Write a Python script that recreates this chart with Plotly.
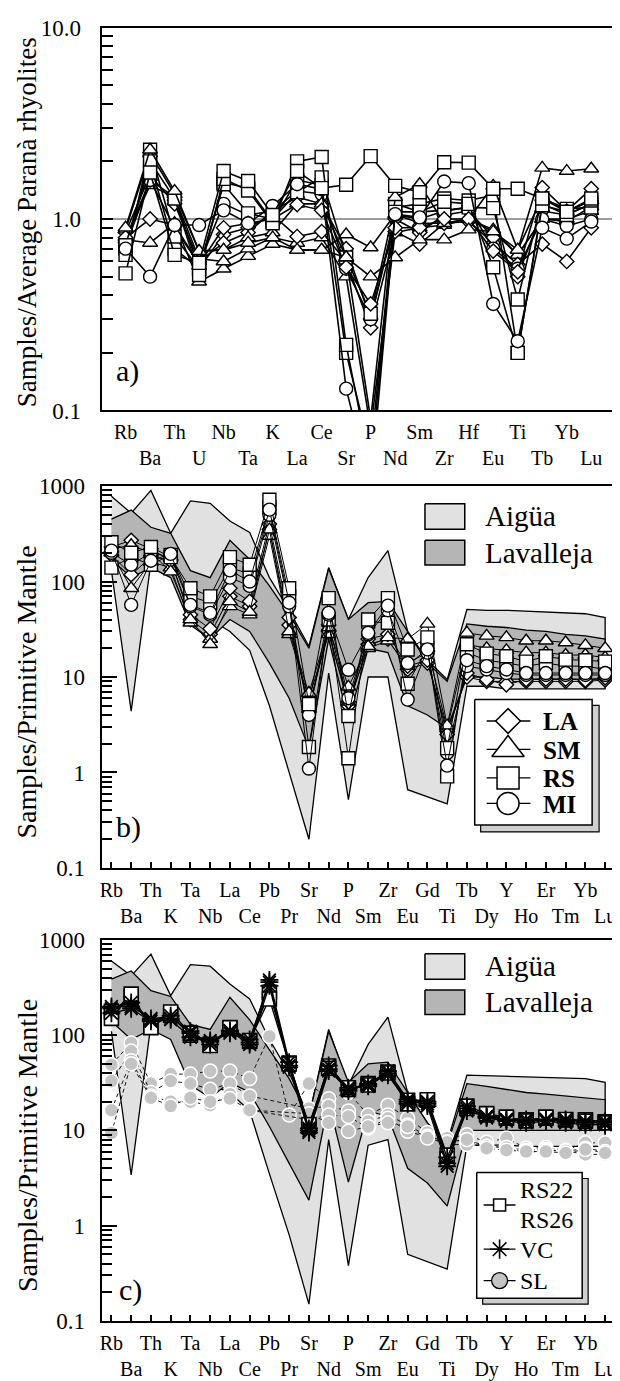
import plotly.graph_objects as go

PAGE_W, PAGE_H = 620, 1381
OFF = 8                      # browser default body margin
W, H = PAGE_W - OFF, PAGE_H - OFF
FONT = "Liberation Serif"

# ---------------- Panel a : samples / average Parana rhyolites ----------------
cats_a = ["Rb", "Ba", "Th", "U", "Nb", "Ta", "K", "La", "Ce", "Sr",
          "P", "Nd", "Sm", "Zr", "Hf", "Eu", "Ti", "Tb", "Yb", "Lu"]

a_LA1 = [0.80, 1.00, 0.93, 0.58, 0.90, 0.95, 1.00, 1.19, 1.11, 0.56, 0.36, 0.90, 0.90, 1.00, 1.00, 0.68, 0.53, 1.46, 1.10, 1.44]
a_LA2 = [0.78, 1.60, 1.30, 0.55, 0.83, 0.90, 1.05, 0.81, 0.86, 0.60, 0.27, 0.86, 0.74, 0.95, 0.97, 0.75, 0.58, 0.74, 0.60, 0.90]
a_LA3 = [0.85, 1.70, 1.20, 0.60, 0.75, 0.85, 1.10, 1.30, 1.20, 0.70, 0.30, 1.00, 0.85, 1.05, 1.10, 0.80, 0.50, 1.10, 1.05, 1.20]
a_SM1 = [0.90, 2.30, 1.40, 0.68, 0.69, 0.75, 0.80, 0.69, 0.69, 0.63, 0.50, 0.63, 0.78, 0.78, 0.88, 0.86, 0.69, 1.85, 1.78, 1.83]
a_SM2 = [0.78, 0.75, 0.95, 0.47, 0.55, 0.64, 0.74, 0.69, 0.69, 0.83, 0.71, 1.06, 0.95, 0.95, 1.00, 0.86, 0.65, 1.00, 0.97, 1.16]
a_SM3 = [0.88, 2.20, 1.35, 0.68, 0.69, 0.80, 0.85, 1.20, 1.20, 0.63, 0.09, 1.30, 1.52, 0.95, 1.00, 1.49, 0.69, 1.30, 1.10, 1.25]
a_SM4 = [0.80, 1.50, 1.30, 0.62, 0.60, 0.70, 0.80, 0.75, 0.80, 0.50, 0.08, 0.85, 0.90, 0.93, 1.00, 0.88, 0.65, 1.00, 1.00, 1.10]
a_RS1 = [0.52, 1.75, 0.65, 0.59, 1.78, 1.58, 1.05, 1.78, 1.45, 1.51, 2.13, 1.49, 1.38, 1.98, 1.97, 1.44, 1.44, 1.28, 1.09, 1.28]
a_RS2 = [0.73, 2.00, 1.28, 0.51, 1.62, 1.41, 0.95, 2.00, 2.11, 0.22, 0.05, 1.09, 1.09, 1.23, 1.20, 0.56, 0.20, 1.18, 1.09, 1.25]
a_RS3 = [0.65, 2.30, 0.81, 0.55, 1.52, 1.07, 1.00, 1.38, 1.65, 0.63, 0.32, 1.20, 1.09, 1.11, 1.15, 1.14, 0.38, 1.28, 1.13, 1.15]
a_RS4 = [0.70, 1.97, 0.70, 0.55, 1.55, 1.45, 0.97, 1.60, 1.50, 0.20, 0.06, 1.15, 1.20, 1.28, 1.25, 1.33, 0.20, 1.20, 1.05, 1.20]
a_MI1 = [0.70, 0.50, 0.93, 0.93, 1.11, 0.95, 1.17, 1.52, 1.43, 0.13, 0.04, 1.06, 1.02, 1.57, 1.54, 0.36, 0.23, 0.90, 0.79, 0.97]
a_MI2 = [0.72, 1.60, 0.90, 0.58, 1.20, 1.05, 1.10, 1.40, 1.35, 0.55, 0.30, 1.05, 1.00, 1.10, 1.15, 0.70, 0.55, 1.00, 0.92, 1.00]

# ---------------- Panels b, c : samples / primitive mantle ----------------
cats_bc = ["Rb", "Ba", "Th", "K", "Ta", "Nb", "La", "Ce", "Pb", "Pr", "Sr", "Nd", "P",
           "Sm", "Zr", "Eu", "Gd", "Ti", "Tb", "Dy", "Y", "Ho", "Er", "Tm", "Yb", "Lu"]

# fields (panel b)
b_aigua_hi = [780, 520, 900, 320, 700, 660, 430, 326, 110, 50, 21, 140, 40, 110, 211, 30, 15, 9.4, 51, 50, 50, 49, 48, 47, 46, 42]
b_aigua_lo = [130, 4.4, 160, 120, 60, 40, 30, 19, 5, 1.0, 0.2, 11, 0.52, 10, 10, 0.66, 0.56, 0.47, 8, 8, 7.5, 7.5, 7.5, 7.5, 7.5, 7.5]
b_lav_hi = [450, 560, 370, 320, 130, 110, 270, 170, 90, 45, 20, 137, 40, 60, 62, 30, 14, 9, 36, 34, 33, 31, 30, 28, 27, 25]
b_lav_lo = [170, 110, 140, 110, 35, 25, 40, 30, 14, 6, 1.8, 25, 3.5, 20, 18, 5, 4, 2.9, 10, 10, 9.5, 9.5, 9.5, 9.5, 9.5, 9.5]

b_LA1 = [230, 270, 220, 165, 45, 32, 85, 62, 400, 42, 4.3, 35, 5.5, 25, 28, 13, 15, 2.5, 11, 9.4, 8.3, 9.4, 9.5, 9.5, 9.3, 9.8]
b_LA2 = [190, 118, 180, 170, 40, 28, 70, 55, 350, 35, 5.0, 30, 5.0, 22, 25, 12, 14, 2.8, 10, 9.0, 9.0, 9.0, 9.0, 9.0, 9.0, 9.3]
b_SM1 = [220, 240, 200, 127, 40, 22, 62, 48, 350, 30, 6.8, 33, 7.9, 21, 26, 25, 36, 3.1, 29, 27, 26, 24, 24, 23, 21.5, 20]
b_SM2 = [200, 85, 160, 140, 37, 25, 55, 45, 300, 28, 6.0, 28, 5.5, 20, 24, 13, 20, 2.9, 22, 20, 19, 18, 18, 17, 17, 16]
b_RS1 = [258, 200, 230, 180, 85, 70, 180, 150, 720, 85, 5.2, 67, 3.9, 40, 67, 19.4, 26, 1.8, 22, 17.6, 16.5, 14.5, 16.5, 15.2, 15, 14.5]
b_RS2 = [140, 180, 150, 190, 70, 60, 140, 120, 600, 70, 1.85, 40, 1.41, 38, 37, 8.5, 20, 0.91, 18, 15, 14, 13, 14, 13, 13, 12]
b_MI1 = [211, 57, 165, 195, 57, 47, 131, 100, 566, 60, 1.1, 47, 11.9, 29, 56, 5.8, 19.5, 1.18, 15, 13, 12, 11, 11, 11, 11, 11]
b_MI2 = [200, 150, 200, 180, 55, 45, 110, 90, 500, 55, 4.0, 45, 6.0, 28, 50, 14, 18, 1.6, 13, 12, 11, 10.5, 10.5, 10.5, 10.5, 10.5]

# fields (panel c)
c_aigua_hi = [600, 420, 710, 260, 550, 530, 344, 240, 90, 40, 14, 115, 30, 80, 155, 25, 12, 7.5, 38, 37.5, 37, 36.5, 36, 35.5, 35, 32]
c_aigua_lo = [110, 3.4, 130, 95, 50, 30, 25, 16, 3.5, 0.8, 0.15, 8, 0.38, 7, 8, 0.5, 0.42, 0.35, 7, 7, 7, 6.8, 6.8, 6.8, 6.8, 6.8]
c_lav_hi = [387, 472, 293, 255, 130, 115, 250, 145, 70, 35, 14, 110, 32, 50, 52, 25, 12, 7, 31, 29, 27, 25, 24, 23, 22, 21]
c_lav_lo = [140, 90, 115, 90, 30, 22, 32, 25, 11, 4.5, 1.85, 20, 2.87, 16, 14, 4, 2.8, 1.6, 10, 10, 10, 10, 10, 10, 10, 10]

c_RS22 = [178, 251, 123, 162, 100, 80, 118, 86, 282, 51, 11, 47.5, 27, 31, 41, 20.7, 20.7, 5.0, 17, 14.5, 13.4, 12.9, 13.4, 12.9, 12.9, 12.3]
c_RS26 = [150, 270, 120, 175, 105, 78, 120, 88, 240, 50, 11.5, 45, 28, 30, 40, 19, 21, 5.5, 18, 15, 13.8, 12.6, 13.8, 13, 12.5, 12]
c_VC1 = [190, 220, 145, 160, 105, 85, 112, 84, 380, 52, 10.5, 48, 27, 30, 42, 21, 20, 4.5, 17, 14, 13, 13, 13, 13, 12.5, 12.5]
c_VC2 = [200, 200, 150, 150, 110, 80, 110, 80, 330, 48, 10, 44, 26, 31, 38, 20, 19, 5.2, 16, 14, 13, 12.5, 13, 12.5, 12, 12]
c_VC3 = [170, 190, 140, 145, 95, 88, 105, 90, 360, 46, 9.5, 42, 28, 29, 40, 19, 18, 4.2, 18, 13.5, 12.5, 12, 12.5, 12, 11.5, 11.5]
c_SL1 = [49, 83, 31, 39, 39, 42, 42, 35, 97, 14.5, 31, 21.5, 25, 14.5, 18.4, 13.4, 9.5, 8.3, 9.0, 7.5, 8.3, 6.5, 6.6, 6.2, 7.4, 7.4]
c_SL2 = [33, 68, 25, 33, 31, 27, 31, 23, None, None, 17, 18, 16, 12.4, 14.5, 11.4, 8.7, 7.6, 8.0, 6.8, 6.6, 6.2, 6.3, 6.0, 6.5, 6.0]
c_SL3 = [16.3, 54, 23, 20, 20, 18.4, 24, 16.3, None, None, 13, 14.5, 14, 10.6, 13.4, 9.8, 8.5, 7.1, 7.1, 6.8, 6.6, 5.8, 6.2, 6.1, 5.6, 5.6]
c_SL4 = [9.4, 50, 22, 18, 22, 20, 21.6, 16.3, None, None, 15, 12, 9.8, 11, 12, 11, 8.3, 7.5, 8.0, 6.5, 6.2, 6.0, 6.0, 5.8, 6.3, 5.8]

# ---------------- build figure ----------------
fig = go.Figure()
ia = list(range(len(cats_a)))
ib = list(range(len(cats_bc)))

STY = {
    "LA": dict(symbol="diamond", size=11),
    "SM": dict(symbol="triangle-up", size=13),
    "RS": dict(symbol="square", size=13),
    "MI": dict(symbol="circle", size=13),
}


def sample(x, y, grp, xa, ya, lw):
    st = STY[grp]
    fig.add_trace(go.Scatter(
        x=x, y=y, mode="lines+markers", xaxis=xa, yaxis=ya, showlegend=False,
        line=dict(color="black", width=lw),
        marker=dict(symbol=st["symbol"], size=st["size"], color="white",
                    line=dict(color="black", width=1.4)),
        hoverinfo="skip"))


def band(x, hi, lo, color, xa, ya):
    fig.add_trace(go.Scatter(
        x=x + x[::-1], y=hi + lo[::-1], mode="lines", fill="toself",
        fillcolor=color, line=dict(color="black", width=1.3),
        xaxis=xa, yaxis=ya, showlegend=False, hoverinfo="skip"))


# panel a
for grp, ser in [("SM", a_SM2), ("SM", a_SM4), ("LA", a_LA2), ("LA", a_LA3), ("MI", a_MI2),
                 ("RS", a_RS4), ("RS", a_RS3), ("SM", a_SM3), ("LA", a_LA1), ("RS", a_RS2),
                 ("SM", a_SM1), ("MI", a_MI1), ("RS", a_RS1)]:
    sample(ia, ser, grp, "x", "y", 1.6)

# panel b
LIGHT, DARK = "#e1e1e1", "#b5b5b5"
band(ib, b_aigua_hi, b_aigua_lo, LIGHT, "x2", "y2")
band(ib, b_lav_hi, b_lav_lo, DARK, "x2", "y2")
for grp, ser in [("LA", b_LA2), ("SM", b_SM2), ("LA", b_LA1), ("SM", b_SM1),
                 ("RS", b_RS2), ("MI", b_MI2), ("RS", b_RS1), ("MI", b_MI1)]:
    sample(ib, ser, grp, "x2", "y2", 1.0)

# panel c
band(ib, c_aigua_hi, c_aigua_lo, LIGHT, "x3", "y3")
band(ib, c_lav_hi, c_lav_lo, DARK, "x3", "y3")
for ser in [c_SL1, c_SL2, c_SL3, c_SL4]:
    fig.add_trace(go.Scatter(
        x=ib, y=ser, mode="lines+markers", connectgaps=True, xaxis="x3", yaxis="y3",
        showlegend=False, hoverinfo="skip",
        line=dict(color="black", width=0.9, dash="4px,3px"),
        marker=dict(symbol="circle", size=14, color="#c4c4c4",
                    line=dict(color="white", width=1.5))))
for ser in [c_RS22, c_RS26]:
    fig.add_trace(go.Scatter(
        x=ib, y=ser, mode="lines+markers", xaxis="x3", yaxis="y3", showlegend=False,
        hoverinfo="skip", line=dict(color="black", width=1.4),
        marker=dict(symbol="square", size=14, color="white",
                    line=dict(color="black", width=1.6))))
for ser in [c_VC1, c_VC2, c_VC3]:
    fig.add_trace(go.Scatter(
        x=ib, y=ser, mode="lines+markers", xaxis="x3", yaxis="y3", showlegend=False,
        hoverinfo="skip", line=dict(color="black", width=1.4),
        marker=dict(symbol="asterisk-open", size=15, color="black",
                    line=dict(color="black", width=1.8))))

# ---------------- legends (overlay in page-pixel coordinates) ----------------
def rect(x0, y0, x1, y1, fill, lw=1.5):
    fig.add_trace(go.Scatter(
        x=[x0, x1, x1, x0, x0], y=[y0, y0, y1, y1, y0], mode="lines", fill="toself",
        fillcolor=fill, line=dict(color="black", width=lw), xaxis="x4", yaxis="y4",
        showlegend=False, hoverinfo="skip"))


def glyph(xl, xr, xc, yc, marker, lw=1.3):
    fig.add_trace(go.Scatter(x=[xl, xr], y=[yc, yc], mode="lines", xaxis="x4", yaxis="y4",
                             line=dict(color="black", width=lw), showlegend=False,
                             hoverinfo="skip"))
    fig.add_trace(go.Scatter(x=[xc], y=[yc], mode="markers", xaxis="x4", yaxis="y4",
                             marker=marker, showlegend=False, hoverinfo="skip"))


ann = []


def text(x, y, s, size, bold=False, xanchor="left", angle=0):
    ann.append(dict(x=x, y=y, xref="x4", yref="y4", text=("<b>%s</b>" % s) if bold else s,
                    showarrow=False, xanchor=xanchor, yanchor="middle", textangle=angle,
                    font=dict(family=FONT, size=size, color="black")))


# field legends (b and c)
for (y1, y2) in [(500.7, 538.0), (959.0, 996.0)]:
    rect(425, y1, 465, y1 + 26, LIGHT)
    rect(425, y2, 465, y2 + 25, DARK)
    text(483, y1 + 13, "Aigüa", 29)
    text(483, y2 + 12.5, "Lavalleja", 29)

# sample legend (b)
rect(481, 706, 600, 835, "#cfcfcf", 1.2)
rect(475, 700, 593, 828, "white", 1.5)
for yc, grp, sz in [(722, "LA", 19), (751, "SM", 28), (780, "RS", 22), (806, "MI", 22)]:
    glyph(487, 531, 508.5, yc, dict(symbol=STY[grp]["symbol"], size=sz, color="white",
                                   line=dict(color="black", width=1.5)))
    text(542, yc + 1, grp, 25, bold=True)

# sample legend (c)
rect(483, 1188, 589, 1316, "#cfcfcf", 1.2)
rect(477, 1182, 583, 1310, "white", 1.5)
glyph(484, 516, 500, 1215, dict(symbol="square", size=12, color="white",
                                 line=dict(color="black", width=1.5)))
glyph(484, 516, 500, 1260, dict(symbol="asterisk-open", size=16, color="black",
                                 line=dict(color="black", width=1.6)))
glyph(484, 516, 500, 1292, dict(symbol="circle", size=16, color="#c4c4c4",
                                 line=dict(color="black", width=1.3)))
text(518, 1200, "RS22", 24)
text(518, 1230, "RS26", 24)
text(518, 1261, "VC", 24)
text(518, 1292, "SL", 24)

# axis titles and panel letters
text(25, 214, "Samples/Average Paranà rhyolites", 27, xanchor="center", angle=-90)
text(25, 692, "Samples/Primitive Mantle", 28, xanchor="center", angle=-90)
text(25, 1154, "Samples/Primitive Mantle", 28, xanchor="center", angle=-90)
text(113, 366, "a)", 30)
text(113, 830, "b)", 30)
text(116, 1302, "c)", 30)

# ---------------- axes ----------------
def ttext(cats):
    return [c if i % 2 == 0 else "<br>" + c for i, c in enumerate(cats)]


def pyd(top, bottom):
    return [1 - (bottom - OFF) / H, 1 - (top - OFF) / H]


XD = [(100 - OFF) / W, (616 - OFF) / W]
common_x = dict(showline=True, mirror=True, linecolor="black", linewidth=2, showgrid=False,
                zeroline=False, tickfont=dict(family=FONT, size=20, color="black"),
                tickangle=0, ticklabelstandoff=3)
common_y = dict(type="log", showline=True, mirror=True, linecolor="black", linewidth=2,
                showgrid=False, zeroline=False, ticks="inside", tickcolor="black",
                tickwidth=1.5, tickfont=dict(family=FONT, size=23, color="black"),
                ticklabelstandoff=10)

minor_a = [m * 10.0 ** e for e in (-1, 0) for m in range(2, 10)]
minor_bc = [m * 10.0 ** e for e in (-1, 0, 1, 2) for m in range(2, 10)]

fig.update_layout(
    width=W, height=H, autosize=False, margin=dict(l=0, r=0, t=0, b=0),
    paper_bgcolor="white", plot_bgcolor="rgba(0,0,0,0)", showlegend=False,
    xaxis=dict(domain=XD, anchor="y", range=[-0.98, 19.97], tickmode="array", tickvals=ia,
               ticktext=ttext(cats_a), ticks="", **common_x),
    yaxis=dict(domain=pyd(15.7, 405.7), anchor="x", range=[-1, 1], tickmode="array",
               tickvals=[0.1, 1, 10], ticktext=["0.1", "1.0", "10.0"], ticklen=11,
               minor=dict(tickvals=minor_a, ticks="inside", ticklen=11, tickwidth=1.5,
                          tickcolor="black", showgrid=False),
               **{**common_y, "ticklabelstandoff": 14}),
    xaxis2=dict(domain=XD, anchor="y2", range=[-0.5, 25.5], tickmode="array", tickvals=ib,
                ticktext=ttext(cats_bc), ticks="inside", ticklen=6, tickwidth=1.5,
                tickcolor="black", **common_x),
    yaxis2=dict(domain=pyd(482.7, 871.7), anchor="x2", range=[-1, 3], tickmode="array",
                tickvals=[0.1, 1, 10, 100, 1000], ticktext=["0.1", "1", "10", "100", "1000"],
                ticklen=15,
                minor=dict(tickvals=minor_bc, ticks="inside", ticklen=10, tickwidth=1.5,
                           tickcolor="black", showgrid=False),
                **common_y),
    xaxis3=dict(domain=XD, anchor="y3", range=[-0.5, 25.5], tickmode="array", tickvals=ib,
                ticktext=ttext(cats_bc), ticks="inside", ticklen=6, tickwidth=1.5,
                tickcolor="black", **common_x),
    yaxis3=dict(domain=pyd(945, 1333), anchor="x3", range=[-1, 3], tickmode="array",
                tickvals=[0.1, 1, 10, 100, 1000], ticktext=["0.1", "1", "10", "100", "1000"],
                ticklen=15,
                minor=dict(tickvals=minor_bc, ticks="inside", ticklen=10, tickwidth=1.5,
                           tickcolor="black", showgrid=False),
                **common_y),
    xaxis4=dict(domain=[0, 1], anchor="y4", range=[OFF, PAGE_W], visible=False, fixedrange=True),
    yaxis4=dict(domain=[0, 1], anchor="x4", range=[PAGE_H, OFF], visible=False, fixedrange=True),
    annotations=ann,
    shapes=[dict(type="line", xref="x domain", yref="y", x0=0, x1=1, y0=1, y1=1,
                 line=dict(color="#7a7a7a", width=1.5), layer="below")],
)

fig.write_html("out.html")
